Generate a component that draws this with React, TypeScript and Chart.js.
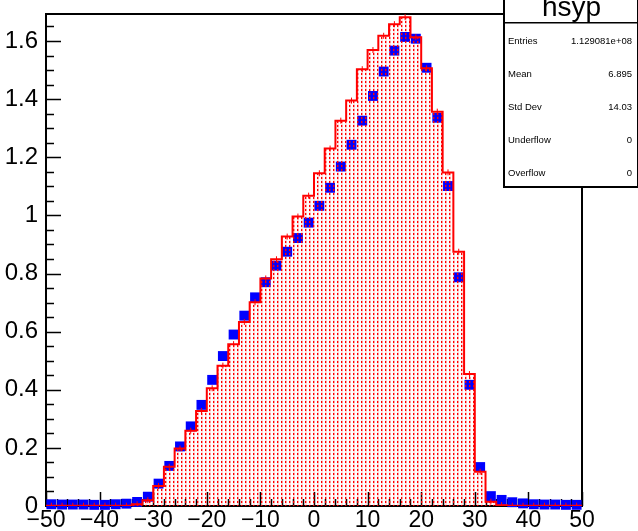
import React, { useEffect, useRef } from 'react';
import { Chart, registerables } from 'chart.js';

Chart.register(...registerables);

// ---- data ----
const histTitle = 'hsyp';
const binLowEdges = [
  -50, -48, -46, -44, -42, -40, -38, -36, -34, -32,
  -30, -28, -26, -24, -22, -20, -18, -16, -14, -12,
  -10, -8, -6, -4, -2, 0, 2, 4, 6, 8,
  10, 12, 14, 16, 18, 20, 22, 24, 26, 28,
  30, 32, 34, 36, 38, 40, 42, 44, 46, 48,
];
const binCenters = [
  -49, -47, -45, -43, -41, -39, -37, -35, -33, -31,
  -29, -27, -25, -23, -21, -19, -17, -15, -13, -11,
  -9, -7, -5, -3, -1, 1, 3, 5, 7, 9,
  11, 13, 15, 17, 19, 21, 23, 25, 27, 29,
  31, 33, 35, 37, 39, 41, 43, 45, 47, 49,
];
const histValues = [
  0.001, 0.001, 0.001, 0.001, 0.001, 0.001, 0.001, 0.001, 0.006, 0.02,
  0.069, 0.135, 0.198, 0.259, 0.327, 0.405, 0.483, 0.557, 0.633, 0.701,
  0.783, 0.849, 0.927, 0.996, 1.068, 1.145, 1.23, 1.326, 1.395, 1.503,
  1.569, 1.618, 1.658, 1.682, 1.613, 1.506, 1.357, 1.148, 0.875, 0.454,
  0.118, 0.015, 0.003, 0.001, 0.001, 0.001, 0.001, 0.001, 0.001, 0.001,
];
const markerValues = [
  0.006, 0.005, 0.005, 0.005, 0.004, 0.004, 0.006, 0.008, 0.014, 0.032,
  0.077, 0.138, 0.205, 0.274, 0.348, 0.434, 0.516, 0.59, 0.655, 0.718,
  0.77, 0.827, 0.875, 0.922, 0.975, 1.033, 1.095, 1.168, 1.243, 1.326,
  1.411, 1.495, 1.567, 1.614, 1.608, 1.508, 1.336, 1.101, 0.787, 0.417,
  0.134, 0.034, 0.021, 0.013, 0.009, 0.006, 0.005, 0.005, 0.004, 0.004,
];
const statsLabels = ['Entries', 'Mean', 'Std Dev', 'Underflow', 'Overflow'];
const statsValues = ['1.129081e+08', '6.895', '14.03', '0', '0'];

const X_MIN = -50;
const X_MAX = 50;
const X_MAJOR = 10;
const X_MINOR = 2;
const Y_MIN = 0;
const Y_MAX = 1.693;
const Y_MAJOR = 0.2;
const Y_MINOR = 0.05;

const FONT = '"Liberation Sans", Arial, Helvetica, sans-serif';

function makePattern(): CanvasPattern | string {
  const c = document.createElement('canvas');
  c.width = 4;
  c.height = 4;
  const g = c.getContext('2d');
  if (!g) return 'rgba(255,0,0,0.2)';
  g.fillStyle = 'rgba(255,0,0,0.12)';
  g.fillRect(1, 0, 2, 1);
  g.fillRect(1, 3, 2, 1);
  g.fillStyle = 'rgba(255,0,0,0.4)';
  g.fillRect(2, 1, 1, 2);
  g.fillStyle = '#ff0000';
  g.fillRect(1, 1, 1, 2);
  const p = g.createPattern(c, 'repeat');
  return p || 'rgba(255,0,0,0.2)';
}

const framePlugin = {
  id: 'rootFrame',
  beforeDatasetsDraw(chart: any) {
    const { ctx, chartArea: a, scales } = chart;
    const xs = scales.x;
    const ys = scales.y;
    ctx.save();
    ctx.strokeStyle = '#000';
    ctx.lineWidth = 1.5;
    ctx.beginPath();
    const nx = Math.round((X_MAX - X_MIN) / X_MINOR);
    for (let i = 0; i <= nx; i++) {
      const v = X_MIN + i * X_MINOR;
      const px = Math.round(xs.getPixelForValue(v)) + 0.5;
      const major = Math.abs(v / X_MAJOR - Math.round(v / X_MAJOR)) < 1e-6;
      const len = major ? 14 : 7;
      ctx.moveTo(px, a.bottom);
      ctx.lineTo(px, a.bottom - len);
    }
    const ny = Math.floor((Y_MAX - Y_MIN) / Y_MINOR + 1e-6);
    for (let i = 0; i <= ny; i++) {
      const v = Y_MIN + i * Y_MINOR;
      const py = Math.round(ys.getPixelForValue(v)) + 0.5;
      const major = Math.abs(v / Y_MAJOR - Math.round(v / Y_MAJOR)) < 1e-6;
      const len = major ? 15 : 8;
      ctx.moveTo(a.left, py);
      ctx.lineTo(a.left + len, py);
    }
    ctx.stroke();
    ctx.lineWidth = 2;
    ctx.strokeRect(a.left, a.top, a.right - a.left, a.bottom - a.top);
    ctx.restore();
  },
};

const statsPlugin = {
  id: 'rootStats',
  afterDraw(chart: any) {
    const { ctx } = chart;
    const left = 503;
    const right = 638;
    const titleBottom = 23;
    const bottom = 188;
    ctx.save();
    ctx.fillStyle = '#fff';
    ctx.fillRect(left, 0, right - left, bottom);
    ctx.fillStyle = '#000';
    ctx.fillRect(left, 0, 2, bottom);
    ctx.fillRect(left, bottom - 2, right - left, 2);
    ctx.fillRect(left, titleBottom - 1, right - left, 1.5);
    ctx.fillRect(right - 1, 0, 1, bottom);
    // title
    ctx.font = `28px ${FONT}`;
    ctx.textAlign = 'center';
    ctx.textBaseline = 'alphabetic';
    ctx.fillText(histTitle, (left + right) / 2 + 1, 16);
    // rows
    ctx.font = `9.5px ${FONT}`;
    ctx.textBaseline = 'middle';
    const rowH = (bottom - titleBottom) / statsLabels.length;
    statsLabels.forEach((lab, i) => {
      const y = titleBottom + rowH * (i + 0.5) + 2;
      ctx.textAlign = 'left';
      ctx.fillText(lab, left + 5, y);
      ctx.textAlign = 'right';
      ctx.fillText(statsValues[i], right - 6, y);
    });
    ctx.restore();
  },
};

export default function App() {
  const ref = useRef<HTMLCanvasElement | null>(null);
  useEffect(() => {
    if (!ref.current) return;
    const pattern = makePattern();
    const histPoints = binLowEdges.map((e, i) => ({ x: e, y: histValues[i] }));
    histPoints.push({ x: X_MAX, y: histValues[histValues.length - 1] });
    const chart = new Chart(ref.current, {
      type: 'line',
      data: {
        datasets: [
          {
            type: 'line',
            data: histPoints,
            stepped: 'before',
            borderColor: '#ff0000',
            borderWidth: 2,
            backgroundColor: pattern as any,
            fill: 'origin',
            pointRadius: 0,
            tension: 0,
            order: 0,
          } as any,
          {
            type: 'scatter',
            data: binCenters.map((c, i) => ({ x: c, y: histValues[i] })),
            pointStyle: 'line',
            rotation: 90,
            pointRadius: 3,
            borderColor: '#ff0000',
            borderWidth: 1,
            backgroundColor: '#ff0000',
            order: 1,
          } as any,
          {
            type: 'scatter',
            data: binCenters.map((c, i) => ({ x: c, y: markerValues[i] })),
            pointStyle: 'rect',
            pointRadius: 7,
            backgroundColor: '#0000ff',
            borderWidth: 0,
            clip: false,
            order: 2,
          } as any,
        ],
      },
      options: {
        animation: false,
        responsive: false,
        maintainAspectRatio: false,
        events: [],
        layout: { padding: { top: 14, right: 56, left: 0, bottom: 0 } },
        plugins: {
          legend: { display: false },
          tooltip: { enabled: false },
          title: { display: false },
        },
        scales: {
          x: {
            type: 'linear',
            min: X_MIN,
            max: X_MAX,
            grid: { display: false, drawTicks: false },
            border: { display: false },
            ticks: {
              stepSize: X_MAJOR,
              autoSkip: false,
              maxRotation: 0,
              padding: 1,
              color: '#000',
              font: { family: FONT, size: 23 },
              callback: (v: any) => String(v).replace('-', '\u2212'),
            },
            afterFit: (s: any) => {
              s.height = 25;
              s.paddingLeft = 0;
              s.paddingRight = 0;
            },
          },
          y: {
            type: 'linear',
            min: Y_MIN,
            max: Y_MAX,
            grid: { display: false, drawTicks: false },
            border: { display: false },
            ticks: {
              stepSize: Y_MAJOR,
              includeBounds: false,
              autoSkip: false,
              padding: 8,
              color: '#000',
              font: { family: FONT, size: 24 },
              callback: (v: any) => String(Math.round(Number(v) * 10) / 10),
            },
            afterFit: (s: any) => {
              s.width = 46;
              s.paddingTop = 0;
              s.paddingBottom = 0;
            },
          },
        },
      },
      plugins: [framePlugin, statsPlugin],
    });
    return () => chart.destroy();
  }, []);
  return (
    <div style={{ position: 'fixed', left: 0, top: 0, width: 638, height: 531, background: '#fff' }}>
      <canvas ref={ref} width={638} height={531} style={{ display: 'block', width: 638, height: 531 }} />
    </div>
  );
}
